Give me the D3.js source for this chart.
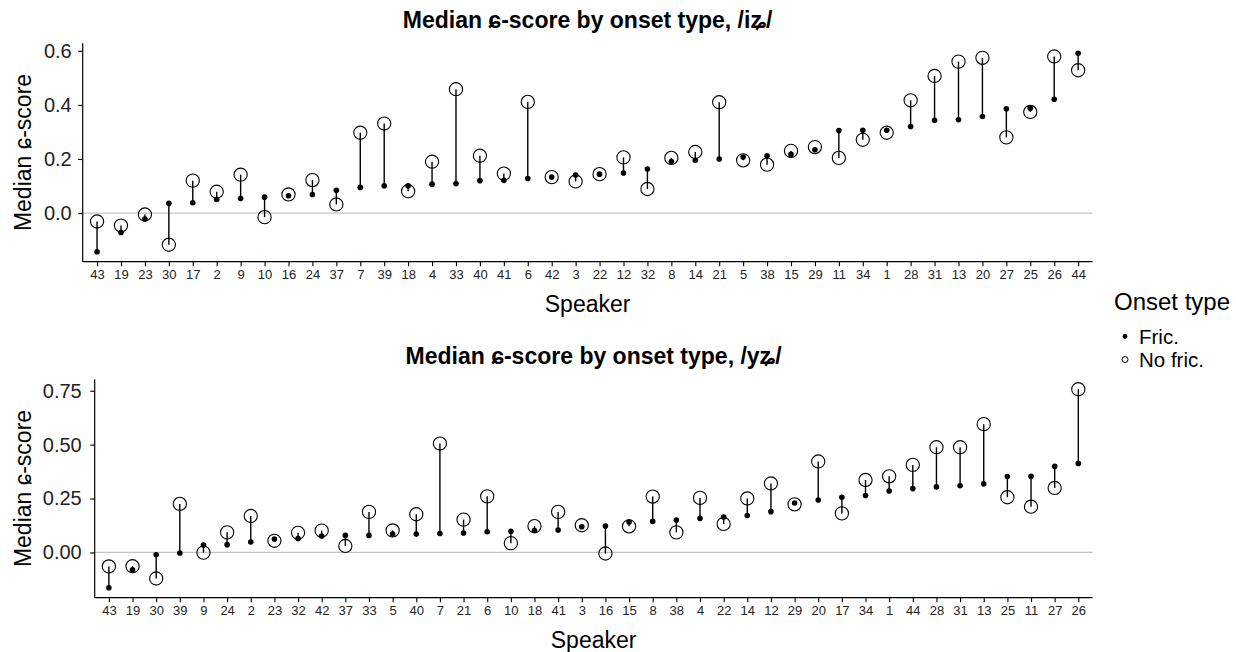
<!DOCTYPE html>
<html>
<head>
<meta charset="utf-8">
<script src="https://cdn.jsdelivr.net/npm/d3@7"></script>
<style>
  html, body { margin: 0; padding: 0; background: #fff; }
  svg { display: block; font-family: "Liberation Sans", Arial, Helvetica, sans-serif; }
</style>
</head>
<body>
<svg id="chart" width="1236" height="652"></svg>
<script>
// Speakers ordered by median fricative score, /iʑ/ context
const speakersI = [43,19,23,30,17,2,9,10,16,24,37,7,39,18,4,33,40,41,6,42,3,22,12,32,8,14,21,5,38,15,29,11,34,1,28,31,13,20,27,25,26,44];
const fricI = [-0.143,-0.072,-0.022,0.036,0.038,0.050,0.054,0.059,0.064,0.069,0.084,0.095,0.101,0.101,0.107,0.109,0.120,0.121,0.128,0.133,0.141,0.144,0.148,0.163,0.191,0.195,0.200,0.207,0.212,0.217,0.234,0.305,0.306,0.306,0.320,0.343,0.345,0.357,0.386,0.388,0.421,0.591];
const noFricI = [-0.031,-0.046,-0.005,-0.117,0.120,0.079,0.142,-0.015,0.069,0.122,0.032,0.297,0.331,0.081,0.190,0.458,0.212,0.146,0.411,0.133,0.117,0.144,0.206,0.089,0.204,0.226,0.410,0.195,0.179,0.230,0.244,0.204,0.271,0.297,0.417,0.507,0.560,0.574,0.280,0.374,0.579,0.528];

// Speakers ordered by median fricative score, /yʑ/ context
const speakersY = [43,19,30,39,9,24,2,23,32,42,37,33,5,40,7,21,6,10,18,41,3,16,15,8,38,4,22,14,12,29,20,17,34,1,44,28,31,13,25,11,27,26];
const fricY = [-0.164,-0.081,-0.011,-0.003,0.034,0.036,0.048,0.062,0.064,0.076,0.079,0.079,0.085,0.085,0.088,0.090,0.096,0.098,0.102,0.104,0.119,0.122,0.141,0.144,0.150,0.158,0.164,0.171,0.189,0.229,0.243,0.256,0.264,0.285,0.296,0.304,0.309,0.318,0.352,0.353,0.399,0.413];
const noFricY = [-0.065,-0.064,-0.121,0.225,-0.001,0.093,0.169,0.054,0.091,0.101,0.030,0.188,0.102,0.177,0.505,0.152,0.260,0.043,0.122,0.188,0.126,-0.005,0.121,0.259,0.093,0.253,0.132,0.250,0.320,0.223,0.422,0.181,0.336,0.353,0.406,0.488,0.488,0.595,0.256,0.212,0.299,0.757];

const ticksI = [0.0, 0.2, 0.4, 0.6];
const ticksY = [0.00, 0.25, 0.50, 0.75];
const titles = ["Median ɕ-score by onset type, /iʑ/", "Median ɕ-score by onset type, /yʑ/"];
const yTitle = "Median ɕ-score";
const xTitle = "Speaker";
const legendTitle = "Onset type";
const legendLabels = ["Fric.", "No fric."];

const svg = d3.select("#chart");

function panel(cfg) {
  const { speakers, fric, noFric, ticks, tickFmt, left, right, top, bottom, title, tickPad } = cfg;
  const all = fric.concat(noFric);
  const [lo, hi] = d3.extent(all);
  const pad = (hi - lo) * 0.05;

  const x = d3.scalePoint().domain(speakers.map(String)).range([left, right]).padding(0.6);
  const y = d3.scaleLinear().domain([lo - pad, hi + pad]).range([bottom, top]);

  const g = svg.append("g");

  // zero reference line
  g.append("line")
    .attr("x1", left).attr("x2", right)
    .attr("y1", y(0)).attr("y2", y(0))
    .attr("stroke", "#c4c4c4").attr("stroke-width", 1.1);

  const rows = speakers.map((s, i) => ({ s: String(s), f: fric[i], n: noFric[i] }));

  // connecting segments
  g.selectAll("line.seg").data(rows).join("line")
    .attr("class", "seg")
    .attr("x1", d => x(d.s)).attr("x2", d => x(d.s))
    .attr("y1", d => y(d.f)).attr("y2", d => y(d.n))
    .attr("stroke", "#000").attr("stroke-width", 1.4);

  // no-frication medians (hollow)
  g.selectAll("circle.nf").data(rows).join("circle")
    .attr("class", "nf")
    .attr("cx", d => x(d.s)).attr("cy", d => y(d.n)).attr("r", 6.6)
    .attr("fill", "none").attr("stroke", "#000").attr("stroke-width", 1.1);

  // frication medians (filled)
  g.selectAll("circle.f").data(rows).join("circle")
    .attr("class", "f")
    .attr("cx", d => x(d.s)).attr("cy", d => y(d.f)).attr("r", 2.8)
    .attr("fill", "#000");

  // x axis
  const xa = g.append("g").attr("transform", `translate(0,${bottom})`)
    .call(d3.axisBottom(x).tickSizeOuter(0).tickSize(4.5).tickPadding(4));
  xa.select(".domain").attr("stroke-width", 1.2).attr("d", `M${left},0H${right}`);
  xa.selectAll(".tick line").attr("stroke-width", 1.1);
  xa.selectAll("text").attr("font-size", 13).attr("fill", "#222").attr("font-family", null);

  // y axis
  const ya = g.append("g").attr("transform", `translate(${left},0)`)
    .call(d3.axisLeft(y).tickValues(ticks).tickFormat(tickFmt).tickSizeOuter(0).tickSize(4.5).tickPadding(tickPad));
  ya.select(".domain").attr("stroke-width", 1.2).attr("d", `M0,${top}V${bottom}`);
  ya.selectAll(".tick line").attr("stroke-width", 1.1);
  ya.selectAll("text").attr("font-size", 20).attr("fill", "#222").attr("font-family", null);

  // titles
  g.append("text")
    .attr("x", (left + right) / 2).attr("y", top - 15)
    .attr("text-anchor", "middle").attr("font-weight", "bold").attr("font-size", 23)
    .text(title);
  g.append("text")
    .attr("x", (left + right) / 2).attr("y", bottom + 50)
    .attr("text-anchor", "middle").attr("font-size", 23)
    .text(xTitle);
  g.append("text")
    .attr("transform", `translate(31,${(top + bottom) / 2}) rotate(-90)`)
    .attr("text-anchor", "middle").attr("font-size", 23)
    .text(yTitle);
}

panel({
  speakers: speakersI, fric: fricI, noFric: noFricI,
  ticks: ticksI, tickFmt: d3.format(".1f"), tickPad: 6.5,
  left: 82.7, right: 1092.5, top: 43.3, bottom: 261.7, title: titles[0]
});

panel({
  speakers: speakersY, fric: fricY, noFric: noFricY,
  ticks: ticksY, tickFmt: d3.format(".2f"), tickPad: 8.5,
  left: 94.7, right: 1092.5, top: 379.3, bottom: 597.7, title: titles[1]
});

// legend
const lg = svg.append("g");
lg.append("text").attr("x", 1114).attr("y", 310).attr("font-size", 24).text(legendTitle);
lg.append("circle").attr("cx", 1125).attr("cy", 336.5).attr("r", 2.4).attr("fill", "#000");
lg.append("circle").attr("cx", 1125).attr("cy", 359.5).attr("r", 3.0)
  .attr("fill", "none").attr("stroke", "#000").attr("stroke-width", 1);
lg.selectAll("text.lab").data(legendLabels).join("text")
  .attr("class", "lab")
  .attr("x", 1139).attr("y", (d, i) => 343.5 + i * 23)
  .attr("font-size", 20.5)
  .text(d => d);
</script>
</body>
</html>
